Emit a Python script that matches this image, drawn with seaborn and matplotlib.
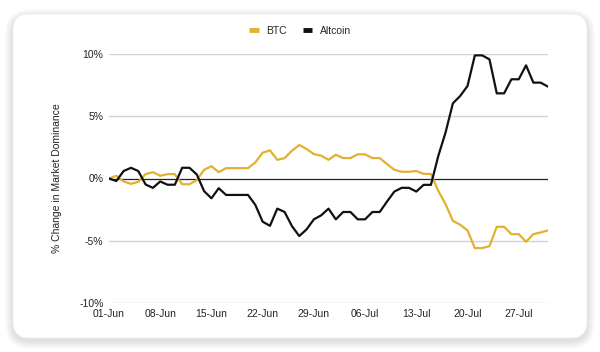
import numpy as np
import pandas as pd
import matplotlib
matplotlib.use("Agg")
import matplotlib.pyplot as plt
import matplotlib.dates as mdates
import matplotlib.transforms as mtransforms
from matplotlib.patches import FancyBboxPatch
import seaborn as sns

# Daily % change in market dominance, 01-Jun to 31-Jul
dates = pd.date_range("2021-06-01", "2021-07-31", freq="D")
btc = [0, 0.22, -0.24, -0.43, -0.27, 0.35, 0.51, 0.22, 0.35, 0.35,
       -0.46, -0.46, -0.13, 0.7, 0.99, 0.51, 0.83, 0.83, 0.83, 0.83,
       1.29, 2.07, 2.26, 1.5, 1.64, 2.23, 2.69, 2.37, 1.96, 1.83,
       1.5, 1.91, 1.64, 1.64, 1.94, 1.94, 1.64, 1.64, 1.16, 0.70,
       0.54, 0.54, 0.6, 0.37, 0.37, -0.99, -2.06, -3.4, -3.72, -4.17,
       -5.59, -5.59, -5.43, -3.88, -3.88, -4.47, -4.47, -5.08, -4.47, -4.33,
       -4.17]
altcoin = [0, -0.2, 0.6, 0.86, 0.6, -0.48, -0.75, -0.24, -0.5, -0.5,
           0.86, 0.86, 0.32, -1.02, -1.59, -0.78, -1.32, -1.32, -1.32, -1.32,
           -2.12, -3.47, -3.8, -2.42, -2.69, -3.82, -4.62, -4.09, -3.28, -2.96,
           -2.42, -3.28, -2.69, -2.69, -3.28, -3.28, -2.69, -2.69, -1.85, -1.05,
           -0.75, -0.75, -1.05, -0.51, -0.51, 1.8, 3.7, 6.04, 6.63, 7.43,
           9.89, 9.89, 9.57, 6.84, 6.84, 7.97, 7.97, 9.09, 7.7, 7.7,
           7.38]
series_names = ["BTC", "Altcoin"]
colors = {"BTC": "#E3B02F", "Altcoin": "#111111"}
yticks = [-10, -5, 0, 5, 10]
ytick_labels = ["-10%", "-5%", "0%", "5%", "10%"]

df = pd.DataFrame({"date": list(dates) * 2,
                   "change": btc + altcoin,
                   "series": ["BTC"] * len(dates) + ["Altcoin"] * len(dates)})

sns.set_theme(style="white")
plt.rcParams["font.family"] = ["Liberation Sans", "DejaVu Sans"]

fig = plt.figure(figsize=(6, 3.52), dpi=100)
fig.patch.set_facecolor("white")

# card with soft shadow (pixel coordinates)
px = mtransforms.IdentityTransform()
for g in range(10, 0, -1):
    fig.patches.append(FancyBboxPatch((13 - g * 0.8, 14 - g * 0.8 - 3), 574 + 1.6 * g, 324 + 1.6 * g,
                                      boxstyle="round,pad=0,rounding_size=%.1f" % (16 + g),
                                      transform=px, facecolor="black", edgecolor="none",
                                      alpha=0.012, zorder=0))
fig.patches.append(FancyBboxPatch((13, 14), 574, 324, boxstyle="round,pad=0,rounding_size=16",
                                  transform=px, facecolor="white", edgecolor="#ededed",
                                  linewidth=0.5, zorder=1))

ax = fig.add_axes([109 / 600, 1 - 303 / 352, (548 - 109) / 600, (303 - 54) / 352])
ax.set_facecolor("none")
ax.set_zorder(2)

sns.lineplot(data=df, x="date", y="change", hue="series", hue_order=series_names,
             palette=colors, linewidth=1.6, ax=ax)

ax.set_ylim(-10, 10)
ax.set_xlim(dates[0], dates[-1])
ax.set_yticks(yticks)
ax.set_yticklabels(ytick_labels)
ax.set_xticks(dates[::7])
ax.xaxis.set_major_formatter(mdates.DateFormatter("%d-%b"))
ax.tick_params(axis="both", length=0, labelsize=7.5, colors="#222222")
ax.tick_params(axis="y", pad=4)
ax.tick_params(axis="x", pad=4)
for y in yticks:
    if y != 0:
        ax.axhline(y, color="#d2d2d2", linewidth=1, zorder=0)
ax.axhline(0, color="#222222", linewidth=0.9, zorder=1)
for s in ax.spines.values():
    s.set_visible(False)
ax.set_xlabel("")
ax.set_ylabel("")
fig.text(57 / 600, 1 - 178.5 / 352, "% Change in Market Dominance", rotation=90,
         ha="center", va="center", fontsize=7.5, color="#222222")

leg = ax.legend(loc="center", bbox_to_anchor=(0.5, 1 - 31 / 352), bbox_transform=fig.transFigure,
                ncol=2, frameon=False, fontsize=7.5, handlelength=0.9, columnspacing=1.6,
                handletextpad=0.7)
for h in leg.get_lines():
    h.set_linewidth(3.5)
    h.set_solid_capstyle("butt")

fig.savefig("out.png", dpi=100)
